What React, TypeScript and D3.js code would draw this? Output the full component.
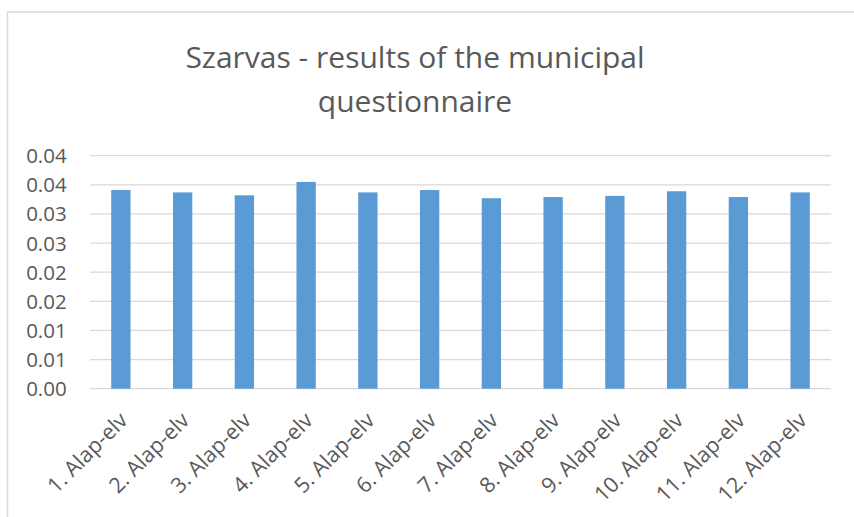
import React, { useEffect, useRef } from 'react';
import * as d3 from 'd3';

const categories = [
  '1. Alap-elv', '2. Alap-elv', '3. Alap-elv', '4. Alap-elv', '5. Alap-elv', '6. Alap-elv',
  '7. Alap-elv', '8. Alap-elv', '9. Alap-elv', '10. Alap-elv', '11. Alap-elv', '12. Alap-elv',
];
const values = [0.0341, 0.0337, 0.0332, 0.0355, 0.0337, 0.0341, 0.0327, 0.0329, 0.0331, 0.0339, 0.0329, 0.0337];
const yTickValues = [0, 0.005, 0.01, 0.015, 0.02, 0.025, 0.03, 0.035, 0.04];
const yTickLabels = ['0.00', '0.01', '0.01', '0.02', '0.02', '0.03', '0.03', '0.04', '0.04'];
const titleLines = ['Szarvas - results of the municipal', 'questionnaire'];

const App = () => {
  const svgRef = useRef<SVGSVGElement>(null);

  useEffect(() => {
    const width = 854;
    const height = 517;
    const margin = { top: 155.7, right: 23, bottom: 128.3, left: 90 };
    const font = "'Open Sans', 'Noto Sans', sans-serif";
    const textColor = '#595959';

    const svg = d3.select(svgRef.current);
    svg.selectAll('*').remove(); // Clear previous content
    svg.attr('viewBox', [0, 0, width, height]);

    // Chart area border
    svg.append('rect')
      .attr('x', 7.5)
      .attr('y', 12)
      .attr('width', width)
      .attr('height', height)
      .attr('fill', 'white')
      .attr('stroke', '#d9d9d9')
      .attr('stroke-width', 1.5);

    // Title
    svg.append('g')
      .selectAll('text')
      .data(titleLines)
      .join('text')
      .attr('x', 415)
      .attr('y', (d, i) => 68 + i * 44)
      .attr('text-anchor', 'middle')
      .attr('font-family', font)
      .attr('font-size', 30)
      .attr('fill', textColor)
      .text(d => d);

    const x = d3.scaleBand()
      .domain(categories)
      .range([margin.left, width - margin.right])
      .paddingInner(0.687)
      .paddingOuter(0.3435);

    const y = d3.scaleLinear()
      .domain([0, 0.04])
      .range([height - margin.bottom, margin.top]);

    // Gridlines
    svg.append('g')
      .selectAll('line')
      .data(yTickValues)
      .join('line')
      .attr('x1', margin.left)
      .attr('x2', width - margin.right)
      .attr('y1', d => y(d))
      .attr('y2', d => y(d))
      .attr('stroke', '#d9d9d9')
      .attr('stroke-width', 1.3);

    // Y labels
    svg.append('g')
      .selectAll('text')
      .data(yTickValues)
      .join('text')
      .attr('x', 66.7)
      .attr('y', d => y(d) + 7.5)
      .attr('text-anchor', 'end')
      .attr('font-family', font)
      .attr('font-size', 20.5)
      .attr('fill', textColor)
      .text((d, i) => yTickLabels[i]);

    // Bars
    svg.append('g')
      .selectAll('rect')
      .data(values)
      .join('rect')
      .attr('x', (d, i) => x(categories[i]))
      .attr('y', d => y(d))
      .attr('width', x.bandwidth())
      .attr('height', d => y(0) - y(d))
      .attr('fill', '#5b9bd5');

    // X labels, rotated
    svg.append('g')
      .selectAll('text')
      .data(categories)
      .join('text')
      .attr('transform', d => `translate(${x(d) + x.bandwidth() / 2 + 8},${y(0) + 33}) rotate(-45)`)
      .attr('text-anchor', 'end')
      .attr('font-family', font)
      .attr('font-size', 21.5)
      .attr('fill', textColor)
      .text(d => d);
  }, []);

  return (
    <svg ref={svgRef} width={854} height={517} style={{ position: 'absolute', left: 0, top: 0 }}></svg>
  );
};

export default App;
